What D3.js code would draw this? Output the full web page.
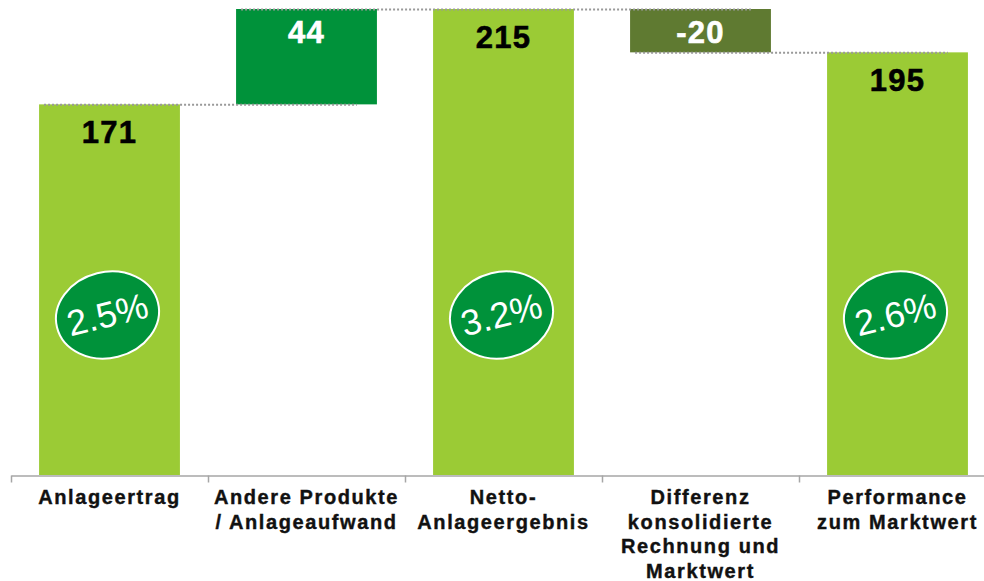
<!DOCTYPE html>
<html>
<head>
<meta charset="utf-8">
<script src="https://cdn.jsdelivr.net/npm/d3@7"></script>
<style>
  body { margin: 0; background: #fff; }
  svg { display: block; font-family: "Liberation Sans", Arial, sans-serif; }
</style>
</head>
<body>
<svg></svg>
<script>
var width = 984;
var height = 581;

// data
var categories = [
  ["Anlageertrag"],
  ["Andere Produkte", "/ Anlageaufwand"],
  ["Netto-", "Anlageergebnis"],
  ["Differenz", "konsolidierte", "Rechnung und", "Marktwert"],
  ["Performance", "zum Marktwert"]
];
var values = [171, 44, 215, -20, 195];
var kinds = ["total", "delta", "total", "delta", "total"];
var percents = ["2.5%", null, "3.2%", null, "2.6%"];

var colors = { total: "#9bcb35", up: "#00923a", down: "#5f7a31" };

var svg = d3.select("svg")
    .attr("width", width)
    .attr("height", height);

// band scale over the slots, axis ticks sit on slot edges
var x = d3.scaleBand()
    .domain(d3.range(values.length))
    .range([11, 996])
    .paddingInner(0.285)
    .paddingOuter(0.1425);

var xEdge = d3.scaleLinear()
    .domain([0, values.length])
    .range([11, 996]);

var y = d3.scaleLinear()
    .domain([0, 215])
    .range([475, 9]);

// build waterfall pieces
var running = 0;
var bars = values.map(function(v, i) {
  var b = { i: i, value: v, kind: kinds[i] };
  if (kinds[i] == "total") {
    b.y0 = 0; b.y1 = v; running = v;
  } else {
    b.y0 = running; b.y1 = running + v; running = running + v;
  }
  b.top = Math.max(b.y0, b.y1);
  b.bottom = Math.min(b.y0, b.y1);
  return b;
});

var g = svg.append("g");

g.selectAll(".bar")
  .data(bars)
  .enter().append("rect")
    .attr("class", "bar")
    .attr("x", function(d) { return x(d.i); })
    .attr("width", x.bandwidth())
    .attr("y", function(d) { return y(d.top); })
    .attr("height", function(d) { return y(d.bottom) - y(d.top); })
    .style("fill", function(d) {
      if (d.kind == "total") return colors.total;
      return d.value >= 0 ? colors.up : colors.down;
    });

// dotted connectors between the steps
var connectors = [
  { v: 171, from: 0, to: 1 },
  { v: 215, from: 1, to: 3 },
  { v: 195, from: 3, to: 4 }
];
g.selectAll(".conn")
  .data(connectors)
  .enter().append("line")
    .attr("class", "conn")
    .attr("x1", function(d) { return x(d.from) + 5; })
    .attr("x2", function(d) { return x(d.to) + x.bandwidth() - 20; })
    .attr("y1", function(d) { return y(d.v) + 0.5; })
    .attr("y2", function(d) { return y(d.v) + 0.5; })
    .style("stroke", "#999")
    .style("stroke-width", 2)
    .style("stroke-dasharray", "2,2");

// value labels
g.selectAll(".val")
  .data(bars)
  .enter().append("text")
    .attr("class", "val")
    .attr("x", function(d) { return x(d.i) + x.bandwidth() / 2; })
    .attr("y", function(d) { return y(d.top) + (d.kind == "total" ? 39 : 34); })
    .attr("text-anchor", "middle")
    .style("font-size", "31px")
    .style("font-weight", "bold")
    .style("letter-spacing", "1.2px")
    .style("stroke", function(d) { return d.kind == "total" ? "#000" : "#fff"; })
    .style("stroke-width", 0.6)
    .style("fill", function(d) { return d.kind == "total" ? "#000" : "#fff"; })
    .text(function(d) { return d.value; });

// percentage ellipses
var badges = bars.filter(function(d) { return percents[d.i]; });
var badge = g.selectAll(".badge")
  .data(badges)
  .enter().append("g")
    .attr("class", "badge")
    .attr("transform", function(d) {
      return "translate(" + (x(d.i) + x.bandwidth() / 2 - 2) + ",315) rotate(-14)";
    });

badge.append("ellipse")
    .attr("rx", 52)
    .attr("ry", 43)
    .style("fill", colors.up)
    .style("stroke", "#fff")
    .style("stroke-width", 2);

badge.append("text")
    .attr("text-anchor", "middle")
    .attr("y", 12)
    .style("font-size", "36px")
    .style("fill", "#fff")
    .text(function(d) { return percents[d.i]; });

// axis
var axis = d3.axisBottom(xEdge)
    .tickValues(d3.range(values.length + 1))
    .tickSize(7)
    .tickSizeOuter(0)
    .tickFormat("");

var ax = svg.append("g")
    .attr("transform", "translate(0,475.5)")
    .call(axis);
ax.select(".domain").style("stroke", "#a6a6a6").style("stroke-width", 1.5);
ax.selectAll(".tick line").style("stroke", "#a6a6a6").style("stroke-width", 1.5);

// category labels
var lab = svg.selectAll(".cat")
  .data(categories)
  .enter().append("text")
    .attr("class", "cat")
    .attr("text-anchor", "middle")
    .style("font-size", "20px")
    .style("font-weight", "bold")
    .style("letter-spacing", "1.6px")
    .style("stroke", "#111")
    .style("stroke-width", 0.4)
    .style("fill", "#111");

lab.selectAll("tspan")
  .data(function(d, i) { return d.map(function(t) { return { t: t, i: i }; }); })
  .enter().append("tspan")
    .attr("x", function(d) { return x(d.i) + x.bandwidth() / 2; })
    .attr("y", function(d, j) { return 504 + j * 24.6; })
    .text(function(d) { return d.t; });
</script>
</body>
</html>
